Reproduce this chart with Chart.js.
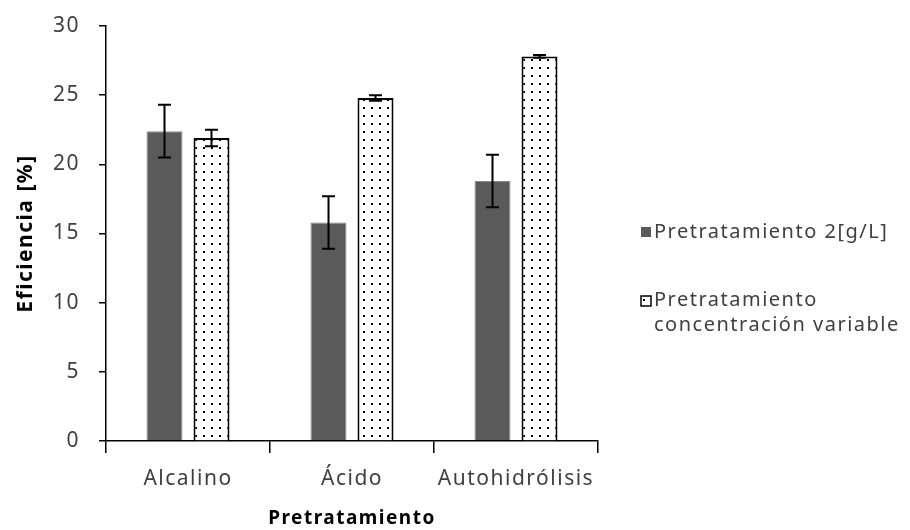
<!DOCTYPE html>
<html>
<head>
<meta charset="utf-8">
<script src="https://cdn.jsdelivr.net/npm/chart.js@4.4.0/dist/chart.umd.min.js"></script>
<style>
  html, body { margin: 0; padding: 0; background: #fff; }
  #wrap { width: 910px; height: 530px; }
</style>
</head>
<body>
<div id="wrap"><canvas id="chart" width="910" height="530"></canvas></div>
<script>
// data
const categories = ['Alcalino', 'Ácido', 'Autohidrólisis'];
const fixedValues = [22.4, 15.8, 18.8];
const fixedErrors = [1.9, 1.9, 1.9];
const variableValues = [21.9, 24.8, 27.8];
const variableErrors = [0.6, 0.2, 0.1];
const seriesLabels = ['Pretratamiento 2[g/L]', ['Pretratamiento', 'concentración variable']];

const FONT = "'Noto Sans', sans-serif";
const DARK = '#5a5a5a';
const SPACING = '1.5px';

// dotted fill for the second series
function dotPattern() {
    const c = document.createElement('canvas');
    c.width = 8; c.height = 8;
    const g = c.getContext('2d');
    g.fillStyle = '#fff';
    g.fillRect(0, 0, 8, 8);
    g.fillStyle = '#000';
    g.fillRect(3, 3, 2, 2);
    return g.createPattern(c, 'repeat');
}
const dots = dotPattern();

// the original text is set a bit loose, so widen every label
const loose = {
    id: 'loose',
    beforeLayout(chart) { chart.ctx.letterSpacing = SPACING; },
    beforeDraw(chart) { chart.ctx.letterSpacing = SPACING; }
};

// error bars drawn from the y scale
const errorBars = {
    id: 'errorBars',
    afterDatasetsDraw(chart) {
        const ctx = chart.ctx;
        const y = chart.scales.y;
        ctx.save();
        ctx.strokeStyle = '#000';
        ctx.lineWidth = 2;
        chart.data.datasets.forEach((ds, i) => {
            const meta = chart.getDatasetMeta(i);
            meta.data.forEach((bar, j) => {
                const v = ds.data[j], e = ds.errors[j];
                const top = y.getPixelForValue(v + e);
                const bot = y.getPixelForValue(v - e);
                ctx.beginPath();
                ctx.moveTo(bar.x, top); ctx.lineTo(bar.x, bot);
                ctx.moveTo(bar.x - 6.5, top); ctx.lineTo(bar.x + 6.5, top);
                ctx.moveTo(bar.x - 6.5, bot); ctx.lineTo(bar.x + 6.5, bot);
                ctx.stroke();
            });
        });
        ctx.restore();
    }
};

// legend on the right, second label wraps onto two lines
const sideLegend = {
    id: 'sideLegend',
    afterDraw(chart) {
        const ctx = chart.ctx;
        ctx.save();
        ctx.letterSpacing = SPACING;
        ctx.font = '20px ' + FONT;
        ctx.textBaseline = 'middle';
        // first entry
        ctx.fillStyle = DARK;
        ctx.fillRect(641, 227, 10, 10);
        ctx.fillStyle = '#404040';
        ctx.fillText(seriesLabels[0], 654, 232);
        // second entry
        ctx.fillStyle = dots;
        ctx.fillRect(641, 296, 10, 10);
        ctx.strokeStyle = '#000';
        ctx.lineWidth = 1.5;
        ctx.strokeRect(641, 296, 10, 10);
        ctx.fillStyle = '#404040';
        ctx.fillText(seriesLabels[1][0], 654, 300);
        ctx.fillText(seriesLabels[1][1], 654, 325);
        ctx.restore();
    }
};

new Chart(document.getElementById('chart'), {
    type: 'bar',
    data: {
        labels: categories,
        datasets: [{
            label: 'Pretratamiento 2[g/L]',
            data: fixedValues,
            errors: fixedErrors,
            backgroundColor: DARK,
            borderColor: '#8a8a8a',
            borderWidth: 1,
            categoryPercentage: 0.573,
            barPercentage: 0.766
        }, {
            label: 'Pretratamiento concentración variable',
            data: variableValues,
            errors: variableErrors,
            backgroundColor: dots,
            borderColor: '#000',
            borderWidth: 2,
            categoryPercentage: 0.573,
            barPercentage: 0.766
        }]
    },
    options: {
        responsive: false,
        animation: false,
        layout: { padding: { top: 26, right: 312, left: 0, bottom: 0 } },
        plugins: {
            legend: { display: false },
            tooltip: { enabled: false }
        },
        scales: {
            y: {
                min: 0,
                max: 30,
                ticks: { stepSize: 5, padding: 19, color: '#404040', font: { family: FONT, size: 21 } },
                grid: { drawOnChartArea: false, tickLength: 7, color: '#000', lineWidth: 1.5 },
                border: { color: '#000', width: 1.5 },
                title: {
                    display: true,
                    text: 'Eficiencia [%]',
                    color: '#000',
                    font: { family: FONT, size: 21, weight: 'bold' },
                    padding: { top: 13, bottom: 8 }
                },
                afterFit(scale) {
                    scale.width = 106;
                    scale.paddingTop = 0;
                    scale.paddingBottom = 0;
                }
            },
            x: {
                ticks: { padding: 13, color: '#404040', font: { family: FONT, size: 21 } },
                grid: { drawOnChartArea: false, offset: true, tickLength: 12, color: '#000', lineWidth: 1.5 },
                border: { color: '#000', width: 1.5 },
                title: {
                    display: true,
                    text: 'Pretratamiento',
                    color: '#000',
                    font: { family: FONT, size: 19, weight: 'bold' },
                    padding: { top: -3, bottom: 0 }
                },
                afterFit(scale) { scale.height = 89; }
            }
        }
    },
    plugins: [loose, errorBars, sideLegend]
});
</script>
</body>
</html>
